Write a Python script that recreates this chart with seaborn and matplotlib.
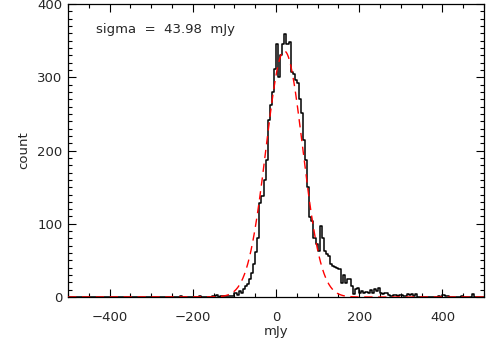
import numpy as np
import pandas as pd
import matplotlib
matplotlib.use("Agg")
import matplotlib.pyplot as plt
import seaborn as sns

# histogram: 5 mJy bins from -500 to 500 (left edges), counts
bin_start = -500
bin_width = 5
counts = [
    0, 0, 0, 0, 0, 0, 0, 0, 0, 0, 0, 0, 0, 0, 0, 0, 0, 0, 0, 0,
    0, 0, 0, 0, 0, 0, 0, 0, 0, 0, 0, 0, 0, 0, 0, 0, 0, 0, 0, 0,
    0, 0, 0, 0, 0, 0, 0, 0, 0, 0, 0, 0, 0, 0, 1, 0, 0, 0, 0, 0,
    0, 0, 0, 1, 0, 0, 0, 0, 0, 1, 2, 3, 0, 1, 1, 2, 1, 2, 1, 2,
    5, 3, 8, 6, 11, 15, 18, 24, 33, 45, 62, 80, 128, 138, 160, 187, 242, 262, 280, 312,
    345, 301, 330, 345, 359, 345, 349, 308, 305, 297, 293, 270, 252, 214, 187, 150, 109, 104, 80, 73,
    63, 97, 80, 63, 59, 56, 45, 43, 41, 40, 38, 19, 30, 19, 25, 24, 15, 4, 11, 13,
    5, 8, 6, 7, 5, 9, 6, 11, 8, 13, 6, 4, 5, 6, 3, 2, 3, 3, 2, 3,
    3, 2, 2, 4, 3, 4, 2, 4, 0, 0, 0, 0, 0, 0, 0, 0, 0, 0, 1, 0,
    3, 1, 2, 0, 0, 0, 0, 0, 0, 2, 0, 0, 0, 0, 4, 0, 0, 0, 0, 0,
]

# gaussian fit parameters
fit_amp = 336
fit_mean = 20
fit_sigma = 43.98

centers = bin_start + bin_width * (np.arange(len(counts)) + 0.5)
df = pd.DataFrame({"mJy": centers, "count": counts})

sns.set_style("ticks")
plt.rcParams["font.family"] = ["DejaVu Sans"]
plt.rcParams["xtick.direction"] = "in"
plt.rcParams["ytick.direction"] = "in"

fig = plt.figure(figsize=(4.86, 3.47), dpi=100)
ax = fig.add_axes([0.14, 0.144, 0.856, 0.844])

sns.histplot(data=df, x="mJy", weights="count", binwidth=bin_width,
             binrange=(bin_start, bin_start + bin_width * len(counts)),
             element="step", fill=False, color="black", linewidth=1.1, ax=ax)

xs = np.linspace(-500, 500, 1001)
ax.plot(xs, fit_amp * np.exp(-0.5 * ((xs - fit_mean) / fit_sigma) ** 2),
        color="red", linestyle=(0, (6, 4)), linewidth=1.0, zorder=3)

ax.set_xlim(-500, 500)
ax.set_ylim(0, 400)
ax.set_xticks([-400, -200, 0, 200, 400])
ax.set_xticks(np.arange(-500, 501, 50), minor=True)
ax.set_yticks([0, 100, 200, 300, 400])
ax.set_yticks(np.arange(0, 401, 10), minor=True)
ax.set_xticklabels(["\u2212400", "\u2212200", "0", "200", "400"])
ax.tick_params(which="both", top=True, right=True, labelsize=9.5, color="black")
ax.tick_params(axis="x", which="major", length=6, width=0.8, pad=10)
ax.tick_params(axis="y", which="major", length=6, width=0.8, pad=4)
ax.tick_params(which="minor", length=3, width=0.8)
for s in ax.spines.values():
    s.set_visible(True)
    s.set_color("black")
    s.set_linewidth(0.9)

ax.set_xlabel("mJy", fontsize=9.5, labelpad=1)
ax.set_ylabel("count", fontsize=9.5, labelpad=5)
ax.text(-432, 366, "sigma  =  43.98  mJy", fontsize=9.5, va="center", ha="left")

fig.savefig("out.png", dpi=100)
